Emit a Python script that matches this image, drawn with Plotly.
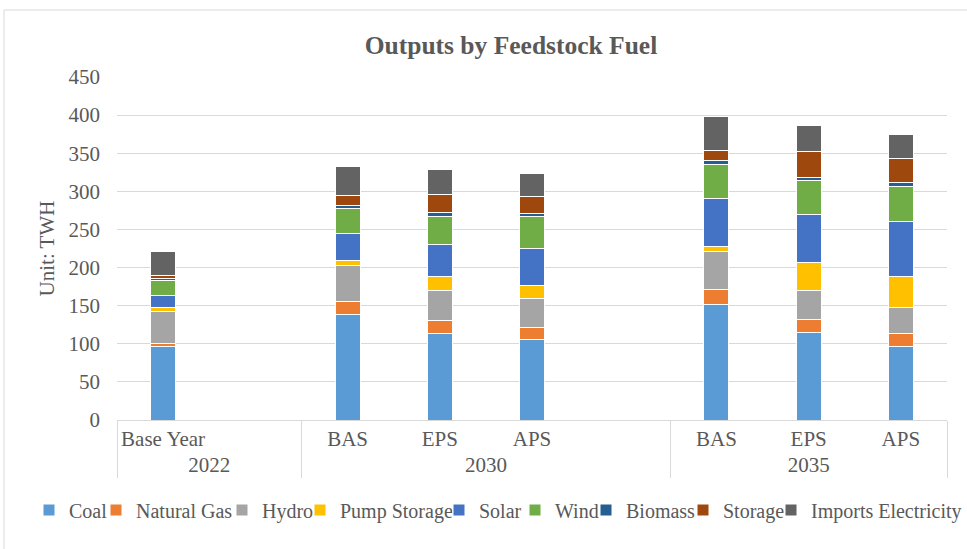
import plotly.graph_objects as go

# x-axis: two-level categories (year group, scenario); blank slots keep Excel's spacing
years = ["2022", "2022", "2030", "2030", "2030", "2030", "2035", "2035", "2035"]
scenarios = ["Base Year", " ", "BAS", "EPS", "APS", "  ", "BAS", "EPS", "APS"]

# TWh by feedstock fuel (None = empty slot)
coal = [96, None, 139, 114, 105, None, 152, 115, 96]
natural_gas = [5, None, 16, 16, 17, None, 19, 17, 18]
hydro = [42, None, 48, 40, 38, None, 50, 38, 34]
pump_storage = [4, None, 6, 18, 17, None, 7, 37, 40]
solar = [16, None, 36, 42, 48, None, 62, 62, 72]
wind = [20, None, 32, 37, 42, None, 45, 45, 47]
biomass = [3, None, 5, 5, 4, None, 6, 4, 5]
storage = [4, None, 12, 24, 22, None, 12, 34, 31]
imports_electricity = [31, None, 39, 33, 30, None, 45, 34, 31]

fuel_names = ["Coal", "Natural Gas", "Hydro", "Pump Storage", "Solar", "Wind",
              "Biomass", "Storage", "Imports Electricity"]
fuel_values = [coal, natural_gas, hydro, pump_storage, solar, wind,
               biomass, storage, imports_electricity]
fuel_colors = ["#5B9BD5", "#ED7D31", "#A5A5A5", "#FFC000", "#4472C4", "#70AD47",
               "#255E91", "#9E480E", "#636363"]

FONT = "Liberation Serif, Times New Roman, serif"
TXT = "#595959"
GRID = "#D9D9D9"
W, H = 967, 549

# left edge (px) of each legend label, one legend box per entry so they sit like Excel's
legend_text_x = [70, 137, 263, 341, 480, 556, 627, 724, 812]

fig = go.Figure()
for i, (name, vals, col) in enumerate(zip(fuel_names, fuel_values, fuel_colors)):
    lg = "legend" if i == 0 else f"legend{i + 1}"
    fig.add_trace(go.Bar(
        x=[years, scenarios], y=vals, name=name,
        marker=dict(color=col, line=dict(color="white", width=1)),
        legend=lg, showlegend=True,
    ))

legends = {}
for i, tx in enumerate(legend_text_x):
    key = "legend" if i == 0 else f"legend{i + 1}"
    legends[key] = dict(
        orientation="h", xref="container", yref="container",
        x=(tx - 41) / W, xanchor="left",
        y=1 - 510 / H, yanchor="middle",
        bgcolor="rgba(0,0,0,0)", borderwidth=0, visible=True,
        font=dict(family=FONT, size=20, color=TXT),
    )
# last entry runs into the right edge: pin it to the right so it stays whole
legends["legend9"].update(x=1.0, xanchor="right")

fig.update_layout(
    width=W, height=H, showlegend=True,
    barmode="stack", bargap=0.73,
    paper_bgcolor="white", plot_bgcolor="white",
    margin=dict(l=117, r=20, t=77, b=129, autoexpand=False),
    font=dict(family=FONT, size=21, color=TXT),
    title=dict(text="<b>Outputs by Feedstock Fuel</b>", x=511 / W, xanchor="center",
               xref="container", yref="container", y=1 - 45 / H, yanchor="middle",
               font=dict(family=FONT, size=25.5, color=TXT)),
    xaxis=dict(type="multicategory", range=[-0.5, 8.5], showgrid=False, automargin=False,
               showline=True, linecolor=GRID, linewidth=1, tickangle=0,
               ticks="outside", ticklen=5, tickcolor="rgba(0,0,0,0)",
               showdividers=True, dividercolor=GRID, dividerwidth=1,
               tickfont=dict(family=FONT, size=21, color=TXT)),
    yaxis=dict(range=[0, 450], dtick=50, showgrid=True, gridcolor=GRID, gridwidth=1,
               zeroline=False, showline=False, ticklabelstandoff=16, automargin=False,
               tickfont=dict(family=FONT, size=21, color=TXT),
               title=dict(text="Unit: TWH", standoff=8,
                          font=dict(family=FONT, size=21, color=TXT))),
    shapes=[dict(type="rect", xref="paper", yref="paper",
                 x0=(4 - 117) / 830, x1=(975 - 117) / 830,
                 y0=(420 - 560) / 343, y1=(420 - 10) / 343,
                 line=dict(color=GRID, width=1), fillcolor="rgba(0,0,0,0)", layer="below")],
    **legends,
)

# the page body has a default 8px margin; drop it so the figure fills the window
fig.write_html("out.html", config={"displayModeBar": False},
               post_script="document.body.style.margin='0';")
